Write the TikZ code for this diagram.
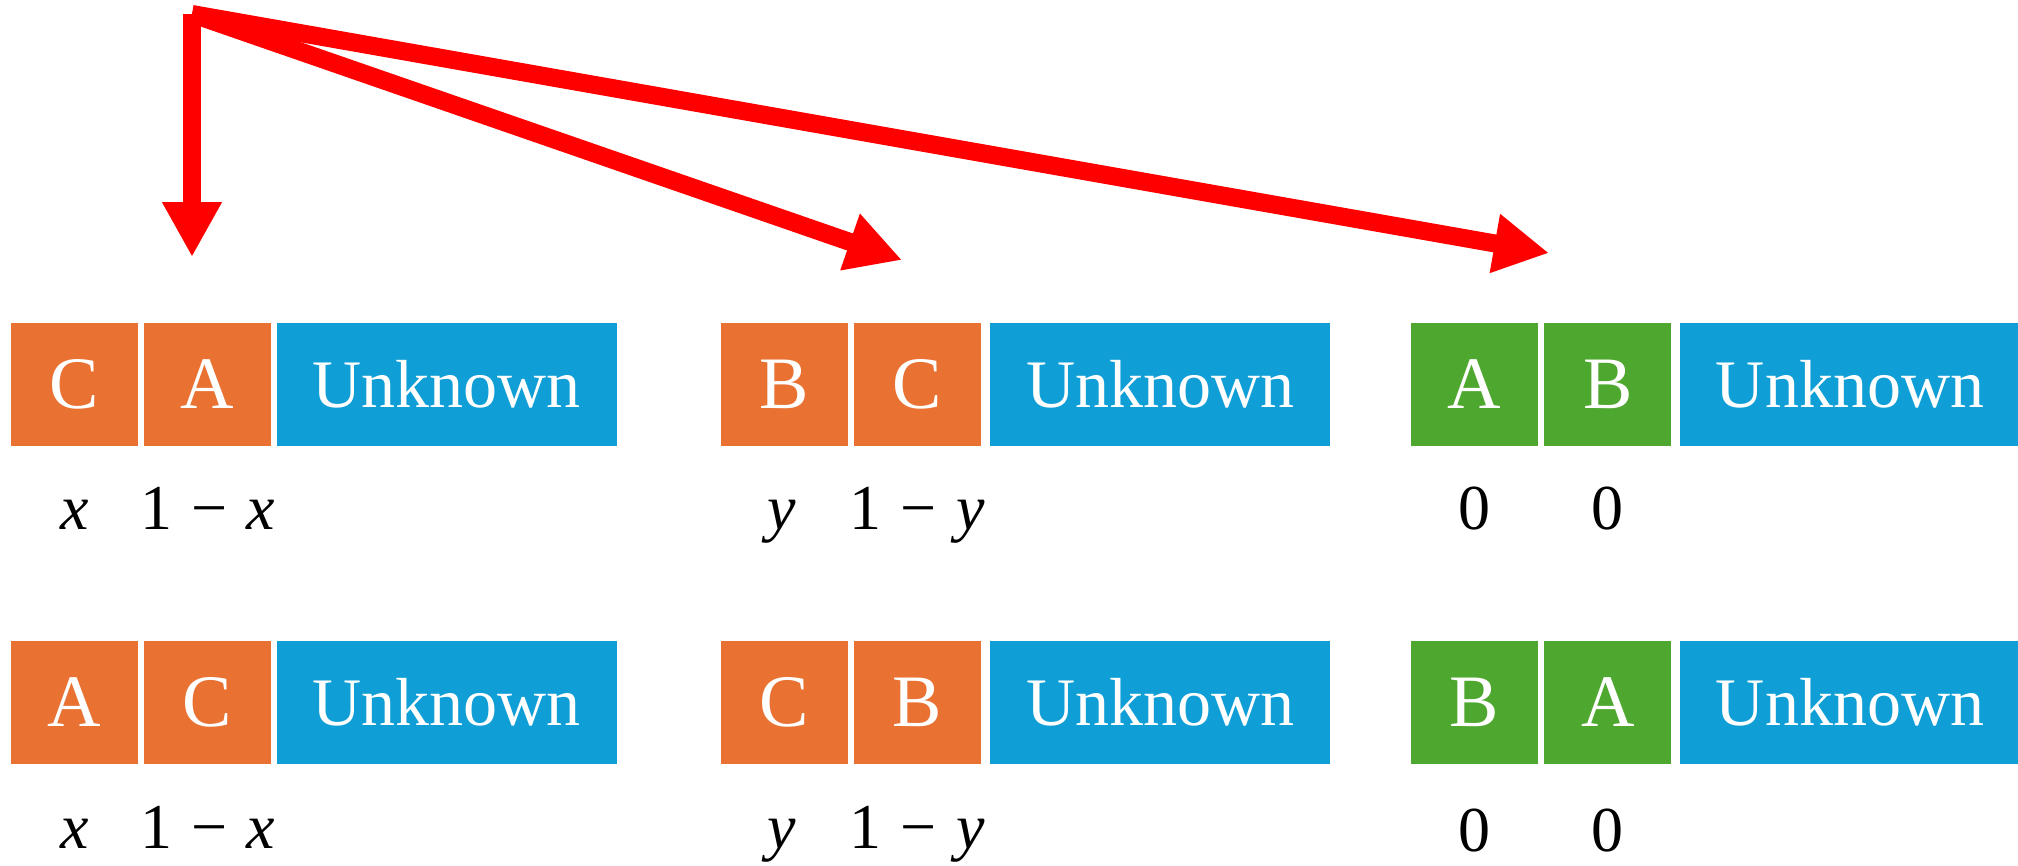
\documentclass[tikz,border=0pt]{standalone}
\usepackage{fontspec}
\setmainfont{Liberation Serif}
\usetikzlibrary{arrows.meta}
\definecolor{cellorange}{HTML}{E97132}
\definecolor{cellblue}{HTML}{0F9ED5}
\definecolor{cellgreen}{HTML}{4EA72E}
\definecolor{arrowred}{HTML}{FF0000}
\newcommand{\mysub}[1]{1\hspace{0.3em}−\hspace{0.3em}\textit{#1}}
\begin{document}
\begin{tikzpicture}[x=1pt,y=-1pt,
  cell/.style={inner sep=0pt, text=white, minimum height=123pt, font=\fontsize{74}{80}\selectfont},
  smallo/.style={cell, fill=cellorange, minimum width=127pt},
  smallg/.style={cell, fill=cellgreen, minimum width=127pt},
  unk/.style={cell, fill=cellblue, minimum width=340pt, font=\fontsize{68}{75}\selectfont},
  lab/.style={anchor=base, inner sep=0pt, font=\fontsize{64}{70}\selectfont},
  redarrow/.style={draw=arrowred, line width=18pt, -{Triangle[length=55pt,width=56pt]}}
]
\useasboundingbox (0,0) rectangle (2018,865);
\clip (0,0) rectangle (2018,865);

% row 1
\node[smallo] (a1) at (74.6,384.2) {C};
\node[smallo] (a2) at (207.5,384.2) {A};
\node[unk]    (a3) at (446.7,384.2) {Unknown};
\node[smallo] (b1) at (784.2,384.2) {B};
\node[smallo] (b2) at (917.2,384.2) {C};
\node[unk]    (b3) at (1160.3,384.2) {Unknown};
\node[smallg] (c1) at (1474.4,384.2) {A};
\node[smallg] (c2) at (1607.9,384.2) {B};
\node[unk]    (c3) at (1850,384.2) {Unknown};

% row 2
\node[smallo] (d1) at (74.6,702.2) {A};
\node[smallo] (d2) at (207.5,702.2) {C};
\node[unk]    (d3) at (446.7,702.2) {Unknown};
\node[smallo] (e1) at (784.2,702.2) {C};
\node[smallo] (e2) at (917.2,702.2) {B};
\node[unk]    (e3) at (1160.3,702.2) {Unknown};
\node[smallg] (f1) at (1474.4,702.2) {B};
\node[smallg] (f2) at (1607.9,702.2) {A};
\node[unk]    (f3) at (1850,702.2) {Unknown};

% labels row 1
\node[lab] (la1) at (74.6,529.5) {\textit{x}};
\node[lab] (la2) at (207.5,529.5) {\mysub{x}};
\node[lab] (lb1) at (782,529.5) {\textit{y}};
\node[lab] (lb2) at (917.2,529.5) {\mysub{y}};
\node[lab] (lc1) at (1474.4,529.5) {0};
\node[lab] (lc2) at (1607.9,529.5) {0};

% labels row 2
\node[lab] (ld1) at (74.6,848.5) {\textit{x}};
\node[lab] (ld2) at (207.5,848.5) {\mysub{x}};
\node[lab] (le1) at (782,848.5) {\textit{y}};
\node[lab] (le2) at (917.2,848.5) {\mysub{y}};
\node[lab] (lf1) at (1474.4,851) {0};
\node[lab] (lf2) at (1607.9,851) {0};

% arrows
\coordinate (src) at (192,14);
\coordinate (t1) at (192,257);
\coordinate (t2) at (902,260);
\coordinate (t3) at (1549,253);
\draw[redarrow] (src) -- (t3);
\draw[redarrow] (src) -- (t2);
\draw[redarrow] (src) -- (t1);
\end{tikzpicture}
\end{document}
